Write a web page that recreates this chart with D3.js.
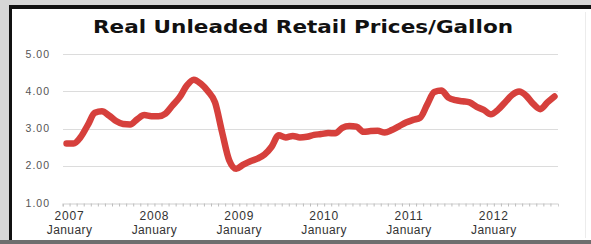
<!DOCTYPE html>
<html>
<head>
<meta charset="utf-8">
<script src="https://cdn.jsdelivr.net/npm/d3@7"></script>
<style>
  body { margin: 0; background: #d6d6d6; }
  svg { display: block; }
</style>
</head>
<body>
<svg id="chart" width="591" height="244"></svg>
<script>
// monthly real unleaded retail price, Jan 2007 .. Oct 2012
var years = [2007, 2008, 2009, 2010, 2011, 2012];
var prices = [
  2.60, 2.60, 2.77, 3.09, 3.42, 3.46, 3.35, 3.20, 3.12, 3.11, 3.25, 3.36,
  3.33, 3.33, 3.40, 3.62, 3.84, 4.15, 4.31, 4.20, 4.00, 3.70, 2.90, 2.15,
  1.92, 2.03, 2.12, 2.19, 2.30, 2.51, 2.82, 2.76, 2.80, 2.76, 2.78, 2.83,
  2.85, 2.88, 2.87, 3.02, 3.07, 3.05, 2.91, 2.93, 2.94, 2.89, 2.96, 3.06,
  3.16, 3.23, 3.29, 3.64, 3.98, 4.02, 3.83, 3.76, 3.73, 3.70, 3.58, 3.50,
  3.38, 3.50, 3.70, 3.90, 3.99, 3.88, 3.66, 3.52, 3.70, 3.86
];
var yTicks = [1, 2, 3, 4, 5];
var months = prices.map(function(d, i) { return i; });

var svg = d3.select("#chart");

// frame
svg.append("rect").attr("x", 0).attr("y", 0).attr("width", 591).attr("height", 244).attr("fill", "#d6d6d6");
svg.append("rect").attr("x", 9).attr("y", 5).attr("width", 582).attr("height", 235).attr("fill", "#111");
svg.append("rect").attr("x", 12).attr("y", 9).attr("width", 579).attr("height", 231).attr("fill", "#fff");
svg.append("line").attr("x1", 585.5).attr("x2", 585.5).attr("y1", 12).attr("y2", 238)
    .attr("stroke", "#ececec");
svg.append("rect").attr("x", 0).attr("y", 240).attr("width", 591).attr("height", 4).attr("fill", "#6e6e6e");

var x = d3.scaleBand().domain(months).range([63, 558]);
var y = d3.scaleLinear().domain([1, 5]).range([203, 54]);

// gridlines
svg.append("g").selectAll("line")
    .data(yTicks.slice(1))
    .enter().append("line")
    .attr("x1", 63).attr("x2", 558)
    .attr("y1", function(d) { return Math.round(y(d)) + 0.5; })
    .attr("y2", function(d) { return Math.round(y(d)) + 0.5; })
    .attr("stroke", "#dcdcdc");

// y labels
svg.append("g").selectAll("text")
    .data(yTicks)
    .enter().append("text")
    .attr("x", 50)
    .attr("y", function(d) { return y(d); })
    .attr("dy", "0.35em")
    .attr("text-anchor", "end")
    .attr("font-family", "Liberation Sans, sans-serif")
    .attr("font-size", 10.5)
    .attr("letter-spacing", 1)
    .attr("fill", "#555")
    .text(function(d) { return d.toFixed(2); });

// x axis with month ticks
var xAxis = d3.axisBottom(x).tickSize(3).tickFormat("");
var ax = svg.append("g").attr("transform", "translate(0," + (Math.round(y(1)) + 0.5) + ")").call(xAxis);
ax.select(".domain").attr("stroke", "#cfcfcf");
ax.selectAll(".tick line").attr("stroke", "#bdbdbd")
    .attr("transform", "translate(" + (-x.bandwidth() / 2) + ",0)");

var lab = svg.append("g").selectAll("g")
    .data(years)
    .enter().append("g")
    .attr("transform", function(d, i) { return "translate(" + (x(i * 12) + x.bandwidth() / 2 + 3) + ",0)"; });
lab.append("text").attr("y", 220).attr("text-anchor", "middle")
    .attr("font-family", "Liberation Sans, sans-serif").attr("font-size", 12).attr("fill", "#333")
    .attr("letter-spacing", 0.8)
    .text(function(d) { return d; });
lab.append("text").attr("y", 233.5).attr("text-anchor", "middle")
    .attr("font-family", "Liberation Sans, sans-serif").attr("font-size", 12).attr("fill", "#333")
    .attr("letter-spacing", 0.4)
    .text("January");

// price line
var line = d3.line()
    .x(function(d, i) { return x(i) + x.bandwidth() / 2; })
    .y(function(d) { return y(d); })
    .curve(d3.curveMonotoneX);

svg.append("path")
    .datum(prices)
    .attr("d", line)
    .attr("fill", "none")
    .attr("stroke", "#d6403c")
    .attr("stroke-width", 6.5)
    .attr("stroke-linejoin", "round")
    .attr("stroke-linecap", "round");

// title
svg.append("text")
    .attr("x", 303).attr("y", 33)
    .attr("text-anchor", "middle")
    .attr("font-family", "DejaVu Sans, sans-serif")
    .attr("font-weight", "bold")
    .attr("font-size", 18)
    .attr("textLength", 420)
    .attr("lengthAdjust", "spacingAndGlyphs")
    .attr("fill", "#111")
    .text("Real Unleaded Retail Prices/Gallon");
</script>
</body>
</html>
